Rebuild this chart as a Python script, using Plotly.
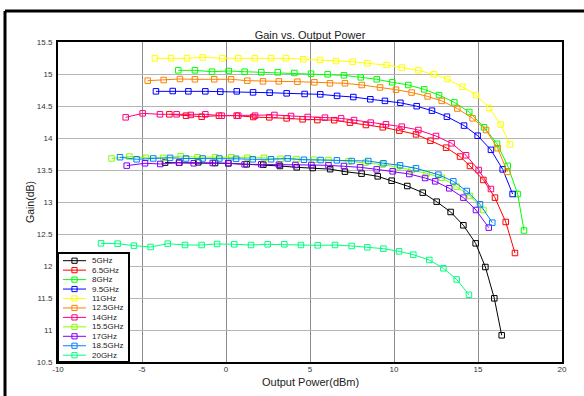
import plotly.graph_objects as go

# ---------------- data ----------------
series_names = ["5GHz", "6.5GHz", "8GHz", "9.5GHz", "11GHz", "12.5GHz",
                "14GHz", "15.5GHz", "17GHz", "18.5GHz", "20GHz"]
series_colors = ["#000000", "#FF0000", "#00FF00", "#0000FF", "#FFFF00", "#FF8000",
                 "#FF0080", "#80FF00", "#8000FF", "#0080FF", "#00FF80"]

pout_5 = [-3.63, -2.78, -1.65, -0.65, 0.14, 1.23, 2.22, 3.21, 4.21, 5.16, 6.2, 7.08,
          8.07, 9.03, 9.86, 10.79, 11.71, 12.54, 13.37, 14.13, 14.86, 15.44, 15.97, 16.41]
gain_5 = [13.615, 13.615, 13.62, 13.609, 13.604, 13.589, 13.583, 13.563, 13.542, 13.531,
          13.513, 13.474, 13.443, 13.401, 13.333, 13.25, 13.146, 13.005, 12.844, 12.636,
          12.354, 11.984, 11.495, 10.917]

pout_6_5 = [-3.37, -2.38, -1.45, -0.42, 0.635, 1.625, 2.58, 3.61, 4.56, 5.44, 6.44, 7.38,
            8.33, 9.33, 10.32, 11.31, 12.17, 13.1, 13.93, 14.52, 15.32, 16.01, 16.65, 17.2]
gain_6_5 = [14.37, 14.349, 14.333, 14.349, 14.349, 14.328, 14.323, 14.307, 14.292, 14.28,
            14.278, 14.24, 14.203, 14.167, 14.115, 14.057, 13.958, 13.849, 13.71, 13.563,
            13.344, 13.068, 12.688, 12.203]

pout_8 = [-2.84, -1.85, -0.83, 0.16, 1.11, 2.10, 3.08, 4.07, 5.06, 6.05, 7.02, 8.02,
          8.97, 9.90, 10.85, 11.80, 12.68, 13.59, 14.48, 15.36, 16.13, 16.77, 17.36, 17.74]
gain_8 = [15.057, 15.057, 15.036, 15.047, 15.036, 15.026, 15.026, 15.016, 15.005, 14.995,
          14.979, 14.948, 14.917, 14.87, 14.828, 14.76, 14.67, 14.557, 14.406, 14.167,
          13.91, 13.565, 13.125, 12.555]

pout_9_5 = [-4.17, -3.17, -2.24, -1.23, -0.34, 0.64, 1.61, 2.60, 3.61, 4.68, 5.61, 6.61,
            7.58, 8.59, 9.46, 10.38, 11.35, 12.26, 13.15, 14.17, 14.98, 15.77, 16.47, 17.06]
gain_9_5 = [14.729, 14.734, 14.729, 14.729, 14.724, 14.729, 14.713, 14.708, 14.698, 14.688,
            14.682, 14.658, 14.64, 14.605, 14.58, 14.55, 14.497, 14.427, 14.333, 14.194,
            14.036, 13.815, 13.51, 13.125]

pout_11 = [-4.23, -3.27, -2.32, -1.39, -0.22, 0.73, 1.71, 2.68, 3.57, 4.60, 5.60, 6.55,
           7.54, 8.41, 9.56, 10.46, 11.45, 12.38, 13.17, 14.07, 14.88, 15.67, 16.35, 16.9]
gain_11 = [15.245, 15.245, 15.245, 15.26, 15.245, 15.245, 15.245, 15.245, 15.245, 15.23,
           15.22, 15.203, 15.193, 15.167, 15.14, 15.10, 15.057, 14.995, 14.92, 14.80,
           14.67, 14.47, 14.21, 13.90]

pout_12_5 = [-4.66, -3.71, -2.74, -1.85, -0.70, 0.30, 1.27, 2.20, 3.14, 4.25, 5.26, 6.19,
             7.08, 8.08, 9.17, 10.12, 11.05, 12.0, 12.84, 13.77, 14.68, 15.48, 16.17, 16.75]
gain_12_5 = [14.896, 14.906, 14.922, 14.917, 14.917, 14.917, 14.896, 14.885, 14.885, 14.88,
             14.87, 14.854, 14.854, 14.828, 14.79, 14.755, 14.71, 14.65, 14.58, 14.46,
             14.307, 14.125, 13.84, 13.47]

pout_14 = [-5.97, -4.96, -3.93, -2.94, -2.1, -1.23, -0.26, 0.73, 1.73, 2.88, 3.87, 4.86,
           5.89, 6.85, 7.62, 8.61, 9.52, 10.46, 11.45, 12.5, 13.43, 14.29, 15.04, 15.77]
gain_14 = [14.323, 14.385, 14.37, 14.37, 14.36, 14.37, 14.349, 14.349, 14.349, 14.36,
           14.344, 14.328, 14.318, 14.307, 14.28, 14.24, 14.214, 14.177, 14.125, 14.031,
           13.917, 13.73, 13.5, 13.203]

pout_15_5 = [-6.81, -5.75, -4.76, -3.73, -2.70, -1.70, -0.65, 0.32, 1.27, 2.26, 3.25, 4.2,
             5.24, 6.1, 7.3, 8.3, 9.3, 10.2, 11.05, 11.94, 12.84, 13.73, 14.52, 15.32]
gain_15_5 = [13.68, 13.71, 13.69, 13.69, 13.716, 13.70, 13.70, 13.70, 13.69, 13.69,
             13.675, 13.67, 13.66, 13.656, 13.635, 13.615, 13.585, 13.545, 13.50, 13.448,
             13.38, 13.24, 13.094, 12.875]

pout_17 = [-5.91, -4.82, -3.91, -2.80, -1.92, -0.79, 0.14, 1.11, 2.10, 3.15, 4.13, 5.08,
           6.1, 7.02, 7.98, 8.97, 9.92, 10.91, 11.85, 12.45, 13.29, 14.13, 14.88, 15.64]
gain_17 = [13.568, 13.605, 13.594, 13.615, 13.605, 13.609, 13.604, 13.589, 13.589, 13.583,
           13.578, 13.578, 13.573, 13.5625, 13.542, 13.51, 13.479, 13.4375, 13.375, 13.323,
           13.214, 13.068, 12.875, 12.6]

pout_18_5 = [-6.31, -5.32, -4.33, -3.33, -2.38, -1.39, -0.40, 0.6, 1.59, 2.68, 3.67, 4.64,
             5.63, 6.6, 7.48, 8.47, 9.37, 10.36, 11.31, 12.64, 13.53, 14.33, 15.12, 15.85]
gain_18_5 = [13.70, 13.667, 13.68, 13.69, 13.68, 13.68, 13.68, 13.675, 13.667, 13.667,
             13.68, 13.66, 13.656, 13.651, 13.64, 13.64, 13.605, 13.573, 13.526, 13.427,
             13.323, 13.172, 12.964, 12.677]

pout_20 = [-7.44, -6.45, -5.48, -4.49, -3.47, -2.44, -1.45, -0.53, 0.49, 1.49, 2.48, 3.47,
           4.46, 5.46, 6.49, 7.48, 8.41, 9.37, 10.30, 11.15, 12.10, 12.94, 13.73, 14.46]
gain_20 = [12.354, 12.349, 12.318, 12.297, 12.349, 12.328, 12.328, 12.344, 12.339, 12.328,
           12.339, 12.339, 12.328, 12.323, 12.328, 12.313, 12.292, 12.271, 12.229, 12.177,
           12.094, 11.964, 11.79, 11.55]

x_tickvals = [-10, -5, 0, 5, 10, 15, 20]
x_ticktext = ["-10", "-5", "0", "5", "10", "15", "20"]
y_tickvals = [10.5, 11, 11.5, 12, 12.5, 13, 13.5, 14, 14.5, 15, 15.5]
y_ticktext = ["10.5", "11", "11.5", "12", "12.5", "13", "13.5", "14", "14.5", "15", "15.5"]

xs = [pout_5, pout_6_5, pout_8, pout_9_5, pout_11, pout_12_5, pout_14, pout_15_5,
      pout_17, pout_18_5, pout_20]
ys = [gain_5, gain_6_5, gain_8, gain_9_5, gain_11, gain_12_5, gain_14, gain_15_5,
      gain_17, gain_18_5, gain_20]

# ---------------- figure ----------------
W, H = 584, 396
L, R, T, B = 58, 22, 42, 34
pw, ph = W - L - R, H - T - B
FONT = "Liberation Sans, Arial, sans-serif"

fig = go.Figure()
for name, col, x, y in zip(series_names, series_colors, xs, ys):
    fig.add_trace(go.Scatter(
        x=x, y=y, name=name, mode="lines+markers",
        line=dict(color=col, width=1),
        marker=dict(symbol="square-open", size=5.5, color=col, line=dict(width=1, color=col)),
        showlegend=False,
    ))


def px2paper_x(px):
    return (px - L) / pw


def py2paper_y(py):
    return (H - B - py) / ph


shapes = []
annotations = []

# outer figure frame (top and left visible)
shapes.append(dict(type="line", xref="paper", yref="paper",
                   x0=px2paper_x(5), x1=px2paper_x(600), y0=py2paper_y(11), y1=py2paper_y(11),
                   line=dict(color="black", width=3), layer="above"))
shapes.append(dict(type="line", xref="paper", yref="paper",
                   x0=px2paper_x(5), x1=px2paper_x(5), y0=py2paper_y(11), y1=py2paper_y(420),
                   line=dict(color="black", width=3), layer="above"))

# manual legend (compact, like the original)
leg_right = 129
leg_top = 253
shapes.append(dict(type="rect", xref="paper", yref="paper",
                   x0=0, x1=px2paper_x(leg_right), y0=0, y1=py2paper_y(leg_top),
                   fillcolor="white", line=dict(color="black", width=2), layer="above"))
for i, (name, col) in enumerate(zip(series_names, series_colors)):
    py = 260.7 + 9.45 * i
    shapes.append(dict(type="line", xref="paper", yref="paper",
                       x0=px2paper_x(63), x1=px2paper_x(86),
                       y0=py2paper_y(py), y1=py2paper_y(py),
                       line=dict(color=col, width=1), layer="above"))
    shapes.append(dict(type="rect", xref="paper", yref="paper",
                       x0=px2paper_x(74.5 - 2.6), x1=px2paper_x(74.5 + 2.6),
                       y0=py2paper_y(py + 2.6), y1=py2paper_y(py - 2.6),
                       line=dict(color=col, width=1), fillcolor="rgba(0,0,0,0)", layer="above"))
    annotations.append(dict(text=name, xref="paper", yref="paper",
                            x=px2paper_x(90), y=py2paper_y(py), xanchor="left", yanchor="middle",
                            showarrow=False, font=dict(size=8, color="#222", family=FONT)))

# axis titles
annotations.append(dict(text="Output Power(dBm)", xref="paper", yref="paper",
                        x=0.5, y=py2paper_y(382), xanchor="center", yanchor="middle",
                        showarrow=False, font=dict(size=11, color="#222", family=FONT)))
annotations.append(dict(text="Gain(dB)", xref="paper", yref="paper",
                        x=px2paper_x(30), y=0.5, xanchor="center", yanchor="middle",
                        textangle=-90, showarrow=False,
                        font=dict(size=10.5, color="#222", family=FONT)))

fig.update_layout(
    template="none",
    width=W, height=H,
    margin=dict(l=L, r=R, t=T, b=B),
    paper_bgcolor="white", plot_bgcolor="white",
    title=dict(text="Gain vs. Output Power", x=0.5, xref="paper",
               y=1 - 35 / H, yref="container", xanchor="center", yanchor="middle",
               font=dict(size=11, color="#222", family=FONT)),
    font=dict(family=FONT, size=8, color="#222"),
    shapes=shapes, annotations=annotations,
    showlegend=False,
)
fig.update_xaxes(range=[-10, 20], tickmode="array", tickvals=x_tickvals, ticktext=x_ticktext,
                 showgrid=True, gridcolor="#8c8c8c", gridwidth=1,
                 showline=True, linecolor="black", linewidth=2, mirror=True,
                 zeroline=False, ticks="", ticklabelstandoff=-2,
                 tickfont=dict(size=8, color="#333"))
fig.update_yaxes(range=[10.5, 15.5], tickmode="array", tickvals=y_tickvals, ticktext=y_ticktext,
                 showgrid=True, gridcolor="#b4b4b4", gridwidth=1,
                 showline=True, linecolor="black", linewidth=2, mirror=True,
                 zeroline=False, ticks="", ticklabelstandoff=2,
                 tickfont=dict(size=8, color="#333"))

fig.write_html("out.html", config={"displayModeBar": False},
               post_script="document.body.style.margin='0px';document.body.style.overflow='hidden';")
